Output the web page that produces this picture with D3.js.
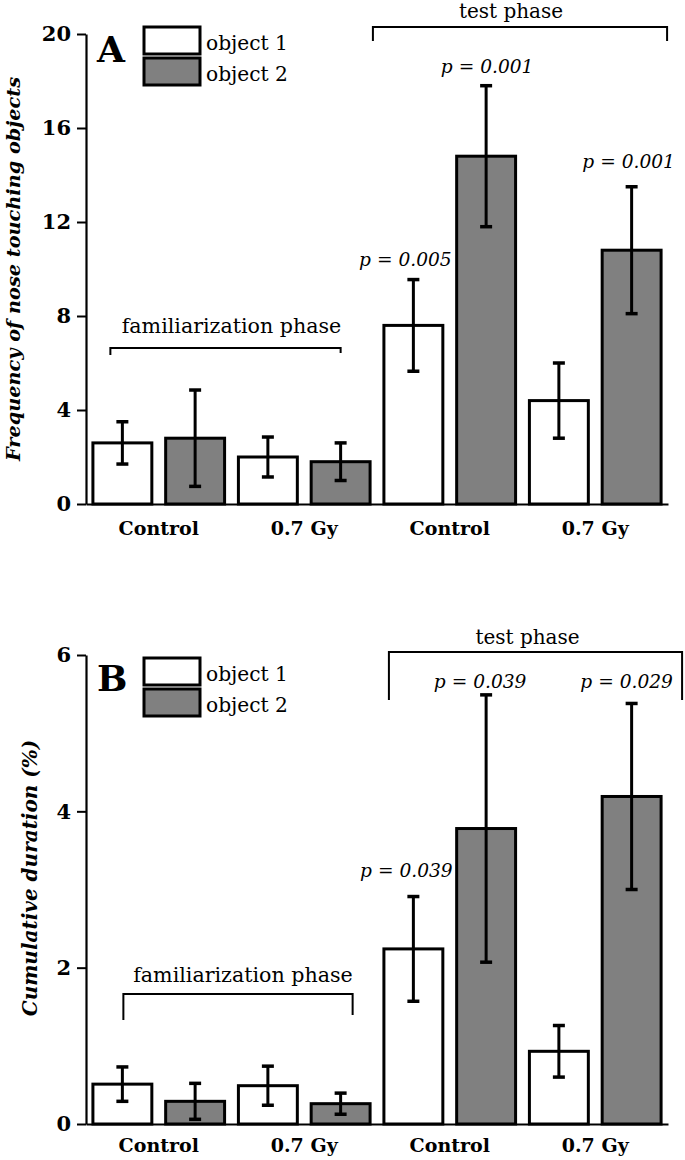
<!DOCTYPE html>
<html><head><meta charset="utf-8">
<script src="https://cdn.jsdelivr.net/npm/d3@7"></script>
<style>body{margin:0;background:#fff}svg{display:block}</style>
</head><body><svg id="chart" width="685" height="1160"></svg>
<script>
// ---------------- data ----------------
const groups = ["Control", "0.7 Gy", "Control", "0.7 Gy"];
const seriesNames = ["object 1", "object 2"];
const barSeries = [0, 1, 0, 1, 0, 1, 0, 1];
const phaseLabels = ["familiarization phase", "test phase"];

const freqMeans = [2.6, 2.8, 2.0, 1.8, 7.6, 14.8, 4.4, 10.8];
const freqErrors = [0.9, 2.05, 0.85, 0.8, 1.95, 3.0, 1.6, 2.7];
const freqTicks = [0, 4, 8, 12, 16, 20];
const freqPValues = ["p = 0.005", "p = 0.001", "p = 0.001"];

const durMeans = [0.51, 0.29, 0.49, 0.26, 2.24, 3.78, 0.93, 4.19];
const durErrors = [0.22, 0.23, 0.25, 0.135, 0.67, 1.71, 0.33, 1.19];
const durTicks = [0, 2, 4, 6];
const durPValues = ["p = 0.039", "p = 0.039", "p = 0.029"];

const pValueBars = [4, 5, 7];

// ---------------- layout / style ----------------
const FONT = "'DejaVu Serif', 'Liberation Serif', serif";
const fills = ["#ffffff", "#808080"];
const X0 = 86, X1 = 668;

const panels = [
  {
    letter: "A", title: "Frequency of nose touching objects",
    means: freqMeans, errors: freqErrors, ticks: freqTicks, pvals: freqPValues,
    top: 34, bottom: 504, max: 20,
    letterY: 62, legendY: 27,
    pOff: [{dx: -8, dy: -14}, {dx: 1, dy: -13}, {dx: -3, dy: -19}],
    fam: {y: 348, l: -12, r: 0, dropL: 7, dropR: 5, textDx: 6, textDy: -15},
    test: {y: 27, l: -11, r: 6, dropL: 14, dropR: 14, textDx: -9, textDy: -9},
    titleX: 20, titleY: 269, titleSize: 19.3, catDy: 31
  },
  {
    letter: "B", title: "Cumulative duration (%)",
    means: durMeans, errors: durErrors, ticks: durTicks, pvals: durPValues,
    top: 655, bottom: 1124, max: 6,
    letterY: 691, legendY: 658,
    pOff: [{dx: -7, dy: -20}, {dx: -6, dy: -7}, {dx: -5, dy: -15}],
    fam: {y: 994, l: 1, r: 12, dropL: 26, dropR: 21, textDx: 5, textDy: -12},
    test: {y: 652, l: 5, r: 21, dropL: 48, dropR: 48, textDx: -8, textDy: -8},
    titleX: 37, titleY: 878, titleSize: 20, catDy: 28
  }
];

const svg = d3.select("#chart");

const xBar = d3.scaleBand().domain(d3.range(8)).range([X0, X1])
  .paddingInner(0.19).paddingOuter(0.095);
const xGroup = d3.scaleBand().domain(d3.range(groups.length)).range([X0, X1]).padding(0);

panels.forEach(p => {
  const g = svg.append("g");
  const y = d3.scaleLinear().domain([0, p.max]).range([p.bottom, p.top]);

  // y axis
  const yAxis = d3.axisLeft(y).tickValues(p.ticks).tickSize(9).tickSizeOuter(0).tickPadding(6)
    .tickFormat(d3.format("d"));
  const ya = g.append("g").attr("transform", `translate(${X0},0)`).call(yAxis);
  ya.select(".domain").attr("stroke", "#000").attr("stroke-width", 2.2);
  ya.selectAll(".tick line").attr("stroke", "#000").attr("stroke-width", 2);
  ya.selectAll(".tick text").attr("font-family", FONT).attr("font-weight", "bold")
    .attr("font-size", 21).attr("fill", "#000");

  // x axis (baseline + category labels)
  const xAxis = d3.axisBottom(xGroup).tickSize(0).tickSizeOuter(0).tickFormat(i => groups[i]);
  const xa = g.append("g").attr("transform", `translate(0,${p.bottom})`).call(xAxis);
  xa.select(".domain").attr("stroke", "#000").attr("stroke-width", 2.2);
  xa.selectAll(".tick text").attr("font-family", FONT).attr("font-weight", "bold")
    .attr("font-size", 19).attr("fill", "#000").attr("dy", null).attr("y", p.catDy);

  // bars
  g.selectAll("rect.bar").data(p.means).join("rect").attr("class", "bar")
    .attr("x", (d, i) => xBar(i)).attr("width", xBar.bandwidth())
    .attr("y", d => y(d)).attr("height", d => y(0) - y(d))
    .attr("fill", (d, i) => fills[barSeries[i]]).attr("stroke", "#000").attr("stroke-width", 3);

  // error bars
  const cx = i => xBar(i) + xBar.bandwidth() / 2;
  const eg = g.selectAll("g.err").data(p.means).join("g").attr("class", "err");
  eg.append("line").attr("x1", (d, i) => cx(i)).attr("x2", (d, i) => cx(i))
    .attr("y1", (d, i) => y(d - p.errors[i])).attr("y2", (d, i) => y(d + p.errors[i]))
    .attr("stroke", "#000").attr("stroke-width", 3);
  [-1, 1].forEach(s => {
    eg.append("line").attr("x1", (d, i) => cx(i) - 6).attr("x2", (d, i) => cx(i) + 6)
      .attr("y1", (d, i) => y(d + s * p.errors[i])).attr("y2", (d, i) => y(d + s * p.errors[i]))
      .attr("stroke", "#000").attr("stroke-width", 3.5);
  });

  // p-values
  pValueBars.forEach((b, k) => {
    g.append("text").attr("x", cx(b) + p.pOff[k].dx).attr("y", y(p.means[b] + p.errors[b]) + p.pOff[k].dy)
      .attr("text-anchor", "middle").attr("font-family", FONT).attr("font-style", "italic")
      .attr("font-size", 18.6).attr("fill", "#000").text(p.pvals[k]);
  });

  // brackets
  const bracket = (xl, xr, yy, dl, dr, label, tdx, tdy, fs) => {
    g.append("path").attr("d", `M${xl},${yy + dl}V${yy}H${xr}V${yy + dr}`)
      .attr("fill", "none").attr("stroke", "#000").attr("stroke-width", 2);
    g.append("text").attr("x", (xl + xr) / 2 + tdx).attr("y", yy + tdy).attr("text-anchor", "middle")
      .attr("font-family", FONT).attr("font-size", fs).attr("fill", "#000").text(label);
  };
  const f = p.fam, t = p.test;
  bracket(cx(0) + f.l, cx(3) + f.r, f.y, f.dropL, f.dropR, phaseLabels[0], f.textDx, f.textDy, 20.6);
  bracket(xBar(4) + t.l, xBar(7) + xBar.bandwidth() + t.r, t.y, t.dropL, t.dropR, phaseLabels[1], t.textDx, t.textDy, 20);

  // panel letter
  g.append("text").attr("x", 97).attr("y", p.letterY).attr("font-family", FONT)
    .attr("font-weight", "bold").attr("font-size", 36).attr("fill", "#000").text(p.letter);

  // legend
  seriesNames.forEach((s, k) => {
    const ly = p.legendY + k * 31;
    g.append("rect").attr("x", 144).attr("y", ly).attr("width", 56).attr("height", 27)
      .attr("fill", fills[k]).attr("stroke", "#000").attr("stroke-width", 3);
    g.append("text").attr("x", 206).attr("y", ly + 23).attr("font-family", FONT)
      .attr("font-size", 20.2).attr("fill", "#000").text(s);
  });

  // y title
  g.append("text").attr("transform", `translate(${p.titleX},${p.titleY}) rotate(-90)`)
    .attr("text-anchor", "middle").attr("font-family", FONT).attr("font-style", "italic")
    .attr("font-weight", "bold").attr("font-size", p.titleSize).attr("fill", "#000").text(p.title);
});
</script>
</body></html>
